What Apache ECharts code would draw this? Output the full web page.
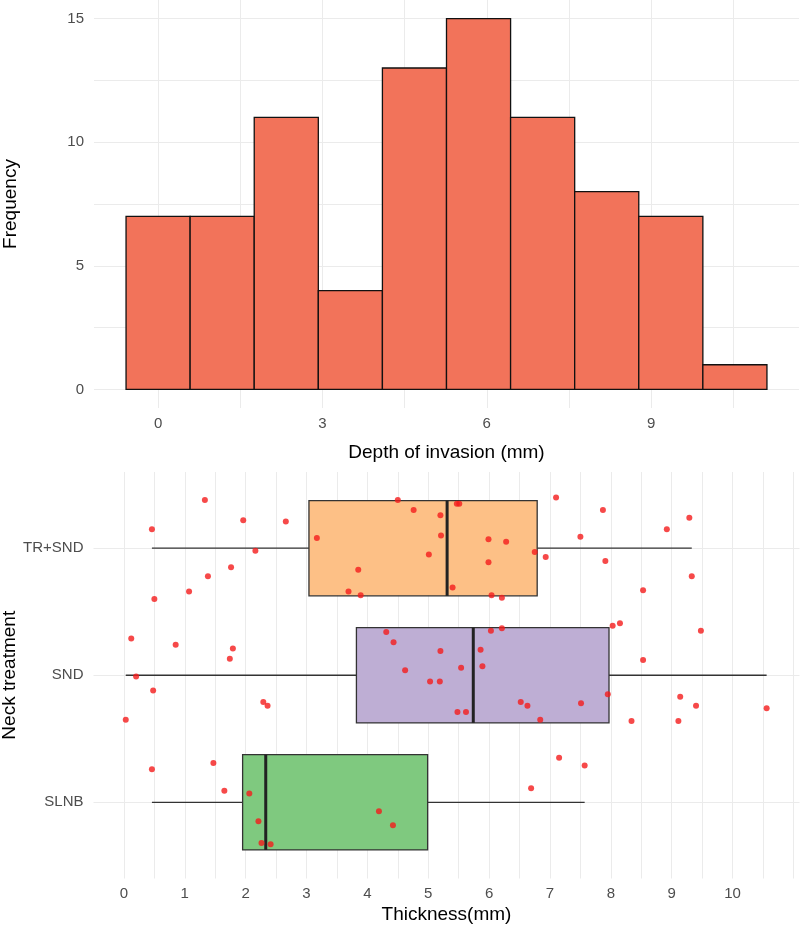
<!DOCTYPE html>
<html>
<head>
<meta charset="utf-8">
<script src="https://cdn.jsdelivr.net/npm/echarts@6/dist/echarts.min.js"></script>
<style>
html, body { margin: 0; padding: 0; background: #fff; }
#chart { width: 800px; height: 926px; }
</style>
</head>
<body>
<div id="chart"></div>
<script>
"use strict";

// histogram: depth of invasion
var bin_edges = [-0.585, 0.585, 1.755, 2.925, 4.095, 5.265, 6.435, 7.605, 8.775, 9.945, 11.115];
var bin_counts = [7, 7, 11, 4, 13, 15, 11, 8, 7, 1];
var depth_ticks = [0, 3, 6, 9];
var freq_ticks = [0, 5, 10, 15];

// boxplot: thickness by neck treatment (bottom to top)
var groups = ['SLNB', 'SND', 'TR+SND'];
// [low whisker, q1, median, q3, high whisker]
var box_stats = [
    [0.46, 1.95, 2.33, 4.99, 7.57],
    [0.03, 3.82, 5.74, 7.97, 10.56],
    [0.46, 3.04, 5.31, 6.79, 9.33]
];
var thickness_ticks = [0, 1, 2, 3, 4, 5, 6, 7, 8, 9, 10];

// jittered points [thickness, position]
var slnb_points = [
    [0.46, 1.26], [1.47, 1.31], [1.65, 1.09], [2.06, 1.07], [2.21, 0.85],
    [2.26, 0.68], [2.41, 0.67], [4.19, 0.93], [4.42, 0.82], [7.15, 1.35],
    [7.57, 1.29], [6.69, 1.11]
];
var snd_points = [
    [0.12, 2.29], [0.85, 2.24], [1.79, 2.21], [1.74, 2.13], [0.20, 1.99],
    [0.48, 1.88], [2.29, 1.79], [2.36, 1.76], [0.03, 1.65], [4.31, 2.34],
    [4.43, 2.26], [8.03, 2.39], [8.15, 2.41], [9.48, 2.35], [6.03, 2.35],
    [6.21, 2.37], [5.20, 2.19], [5.86, 2.20], [8.53, 2.12], [4.62, 2.04],
    [5.54, 2.06], [5.89, 2.07], [5.03, 1.95], [5.19, 1.95], [7.95, 1.85],
    [9.14, 1.83], [6.52, 1.79], [6.63, 1.76], [7.51, 1.78], [9.40, 1.76],
    [10.56, 1.74], [5.48, 1.71], [5.62, 1.71], [6.84, 1.65], [8.34, 1.64],
    [9.11, 1.64]
];
var tr_snd_points = [
    [1.33, 3.38], [1.96, 3.22], [2.66, 3.21], [0.46, 3.15], [3.17, 3.08],
    [2.16, 2.98], [1.76, 2.85], [1.38, 2.78], [3.85, 2.83], [1.07, 2.66],
    [3.69, 2.66], [3.89, 2.63], [0.50, 2.60], [4.50, 3.38], [7.10, 3.40],
    [7.87, 3.30], [9.29, 3.24], [8.92, 3.15], [7.50, 3.09], [4.76, 3.30],
    [5.20, 3.26], [5.21, 3.10], [5.47, 3.35], [5.51, 3.35], [5.99, 3.07],
    [6.28, 3.05], [5.01, 2.95], [5.99, 2.89], [6.75, 2.97], [6.93, 2.93],
    [7.91, 2.90], [9.33, 2.78], [5.40, 2.69], [8.53, 2.67], [6.04, 2.63],
    [6.21, 2.61]
];

var box_colors = ['#7FC97F', '#BEAED4', '#FDC086'];
var font = 'Liberation Sans, Arial, sans-serif';
var grid_color = '#EBEBEB';

function renderBin(params, api) {
    var p0 = api.coord([api.value(0), api.value(2)]);
    var p1 = api.coord([api.value(1), 0]);
    return {
        type: 'rect',
        shape: { x: p0[0], y: p0[1], width: p1[0] - p0[0], height: p1[1] - p0[1] },
        style: { fill: '#F2735A', stroke: '#111', lineWidth: 1.3 }
    };
}

function renderBox(params, api) {
    var c = api.value(0);
    var half = 0.375;
    var lo = api.coord([api.value(1), c]);
    var q1 = api.coord([api.value(2), c]);
    var q3 = api.coord([api.value(4), c]);
    var hi = api.coord([api.value(5), c]);
    var topLeft = api.coord([api.value(2), c + half]);
    var botRight = api.coord([api.value(4), c - half]);
    var medTop = api.coord([api.value(3), c + half]);
    var medBot = api.coord([api.value(3), c - half]);
    var line = { stroke: '#333', lineWidth: 1.3 };
    return {
        type: 'group',
        children: [
            { type: 'line', shape: { x1: lo[0], y1: lo[1], x2: q1[0], y2: q1[1] }, style: line },
            { type: 'line', shape: { x1: q3[0], y1: q3[1], x2: hi[0], y2: hi[1] }, style: line },
            {
                type: 'rect',
                shape: { x: topLeft[0], y: topLeft[1], width: botRight[0] - topLeft[0], height: botRight[1] - topLeft[1] },
                style: { fill: box_colors[params.dataIndex], stroke: '#333', lineWidth: 1.3 }
            },
            { type: 'line', shape: { x1: medTop[0], y1: medTop[1], x2: medBot[0], y2: medBot[1] }, style: { stroke: '#222', lineWidth: 3 } }
        ]
    };
}

var histData = bin_counts.map(function (n, i) { return [bin_edges[i], bin_edges[i + 1], n]; });
var boxData = box_stats.map(function (s, i) { return [i + 1].concat(s); });

var tickLabel = { color: '#4D4D4D', fontSize: 15, fontFamily: font };
var axisName = { color: '#000', fontSize: 19, fontFamily: font };

var chart = echarts.init(document.getElementById('chart'), null, { renderer: 'canvas' });

var options = {
    backgroundColor: '#fff',
    animation: false,
    grid: [
        { left: 94, right: 1, top: 0, height: 408, outerBoundsMode: 'none', containLabel: false },
        { left: 93.5, right: 0.5, top: 472, height: 406.5, outerBoundsMode: 'none', containLabel: false }
    ],
    xAxis: [{
        gridIndex: 0,
        type: 'value',
        min: -1.17,
        max: 11.7,
        name: 'Depth of invasion (mm)',
        nameLocation: 'middle',
        nameGap: 35,
        nameMoveOverlap: false,
        nameTextStyle: axisName,
        axisLine: { show: false },
        axisTick: { show: false, customValues: [0, 1.5, 3, 4.5, 6, 7.5, 9, 10.5] },
        axisLabel: Object.assign({ margin: 8, customValues: depth_ticks }, tickLabel),
        splitLine: { show: true, lineStyle: { color: grid_color, width: 1 } }
    }, {
        gridIndex: 1,
        type: 'value',
        min: -0.5,
        max: 11.1,
        name: 'Thickness(mm)',
        nameLocation: 'middle',
        nameGap: 27,
        nameMoveOverlap: false,
        nameTextStyle: axisName,
        axisLine: { show: false },
        axisTick: { show: false, customValues: [0, 0.5, 1, 1.5, 2, 2.5, 3, 3.5, 4, 4.5, 5, 5.5, 6, 6.5, 7, 7.5, 8, 8.5, 9, 9.5, 10, 10.5, 11] },
        axisLabel: Object.assign({ margin: 8, customValues: thickness_ticks }, tickLabel),
        splitLine: { show: true, lineStyle: { color: grid_color, width: 1 } }
    }],
    yAxis: [{
        gridIndex: 0,
        type: 'value',
        min: -0.75,
        max: 15.75,
        name: 'Frequency',
        nameLocation: 'middle',
        nameGap: 74,
        nameMoveOverlap: false,
        nameTextStyle: axisName,
        axisLine: { show: false },
        axisTick: { show: false, customValues: [0, 2.5, 5, 7.5, 10, 12.5, 15] },
        axisLabel: Object.assign({ margin: 10, customValues: freq_ticks }, tickLabel),
        splitLine: { show: true, lineStyle: { color: grid_color, width: 1 } }
    }, {
        gridIndex: 1,
        type: 'value',
        min: 0.4,
        max: 3.6,
        name: 'Neck treatment',
        nameLocation: 'middle',
        nameGap: 74,
        nameMoveOverlap: false,
        nameTextStyle: axisName,
        axisLine: { show: false },
        axisTick: { show: false, customValues: [1, 2, 3] },
        axisLabel: Object.assign({
            margin: 10,
            customValues: [1, 2, 3],
            formatter: function (v) { return groups[Math.round(v) - 1]; }
        }, tickLabel),
        splitLine: { show: true, lineStyle: { color: grid_color, width: 1 } }
    }],
    series: [{
        name: 'Depth of invasion',
        type: 'custom',
        xAxisIndex: 0,
        yAxisIndex: 0,
        renderItem: renderBin,
        encode: { x: [0, 1], y: 2 },
        data: histData
    }, {
        name: 'Thickness',
        type: 'custom',
        xAxisIndex: 1,
        yAxisIndex: 1,
        renderItem: renderBox,
        encode: { x: [1, 2, 3, 4, 5], y: 0 },
        data: boxData
    }, {
        name: 'SLNB',
        type: 'scatter',
        xAxisIndex: 1,
        yAxisIndex: 1,
        symbolSize: 6,
        itemStyle: { color: '#F41C1C' },
        data: slnb_points
    }, {
        name: 'SND',
        type: 'scatter',
        xAxisIndex: 1,
        yAxisIndex: 1,
        symbolSize: 6,
        itemStyle: { color: '#F41C1C' },
        data: snd_points
    }, {
        name: 'TR+SND',
        type: 'scatter',
        xAxisIndex: 1,
        yAxisIndex: 1,
        symbolSize: 6,
        itemStyle: { color: '#F41C1C' },
        data: tr_snd_points
    }]
};

chart.setOption(options);
</script>
</body>
</html>
